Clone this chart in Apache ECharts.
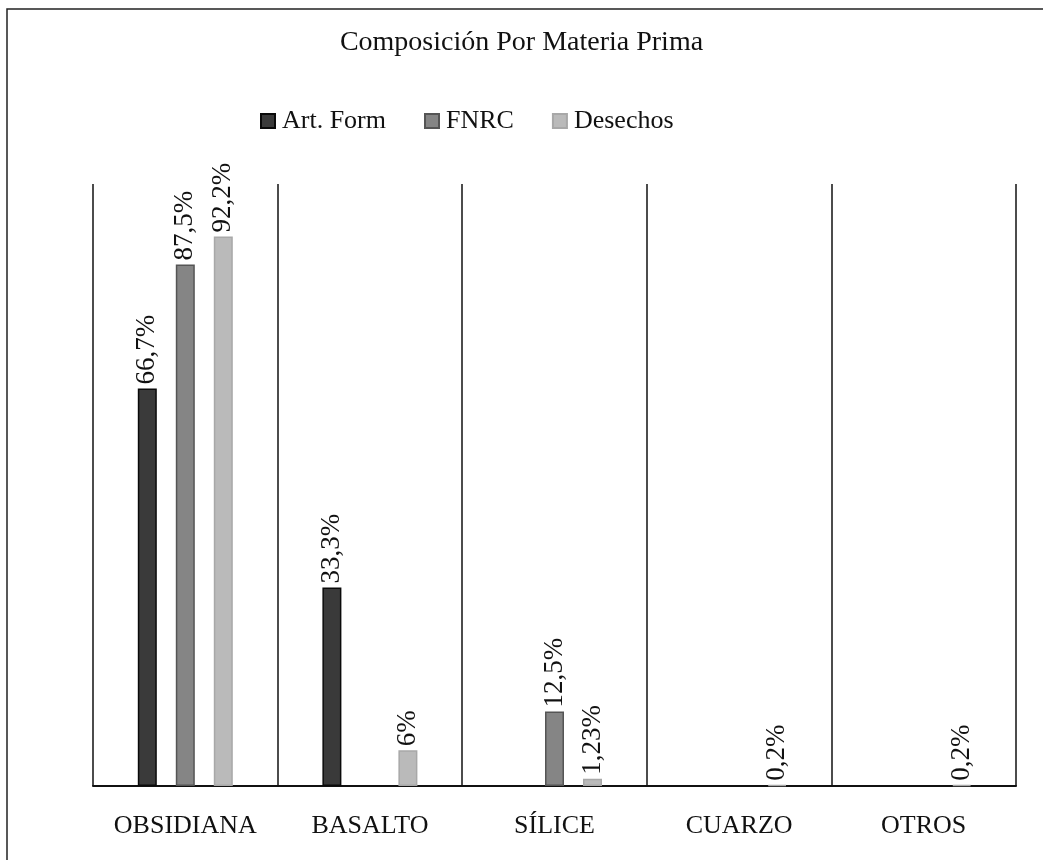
<!DOCTYPE html>
<html>
<head>
<meta charset="utf-8">
<script src="https://cdn.jsdelivr.net/npm/echarts@6/dist/echarts.min.js"></script>
<style>
  html, body { margin: 0; padding: 0; background: #fff; }
  #chart { width: 1043px; height: 860px; }
</style>
</head>
<body>
<div id="chart"></div>
<script>
(function() {
  var categories = ['OBSIDIANA', 'BASALTO', 'SÍLICE', 'CUARZO', 'OTROS'];
  var seriesNames = ['Art. Form', 'FNRC', 'Desechos'];
  var artForm = [66.7, 33.3, null, null, null];
  var fnrc = [87.5, null, 12.5, null, null];
  var desechos = [92.2, 6, 1.23, 0.2, 0.2];
  var artFormLabels = ['66,7%', '33,3%', '', '', ''];
  var fnrcLabels = ['87,5%', '', '12,5%', '', ''];
  var desechosLabels = ['92,2%', '6%', '1,23%', '0,2%', '0,2%'];

  var font = '"Liberation Serif", "DejaVu Serif", serif';
  var ink = '#111111';

  var fills = ['#3a3a3a', '#858585', '#bababa'];
  var borders = ['#0a0a0a', '#555555', '#a8a8a8'];

  function makeSeries(idx, values, labels) {
    return {
      name: seriesNames[idx],
      type: 'bar',
      data: values,
      barWidth: 19,
      barGap: '100%',
      itemStyle: { color: fills[idx], borderColor: borders[idx], borderWidth: 1.5 },
      label: {
        show: true,
        position: 'top',
        rotate: 90,
        align: 'left',
        verticalAlign: 'middle',
        distance: 4,
        color: ink,
        fontFamily: font,
        fontSize: 27,
        formatter: function(p) { return labels[p.dataIndex]; }
      }
    };
  }

  var chart = echarts.init(document.getElementById('chart'), null, { renderer: 'canvas' });
  chart.setOption({
    animation: false,
    backgroundColor: '#ffffff',
    title: {
      text: 'Composición Por Materia Prima',
      left: 'center',
      top: 24,
      textStyle: { fontFamily: font, fontSize: 28, fontWeight: 'normal', color: ink }
    },
    legend: {
      data: seriesNames,
      top: 103,
      left: 255,
      itemWidth: 14,
      itemHeight: 14,
      itemGap: 38,
      icon: 'rect',
      textStyle: { fontFamily: font, fontSize: 26, color: ink, padding: [0, 0, 0, 2] }
    },
    graphic: [{
      type: 'polyline',
      shape: { points: [[7, 860], [7, 9], [1043, 9]] },
      style: { stroke: '#222', lineWidth: 1.5, fill: null }
    }],
    grid: { left: 93, right: 27, top: 184, bottom: 74 },
    xAxis: {
      type: 'category',
      data: categories,
      axisLine: { lineStyle: { color: '#111', width: 2 } },
      axisTick: { show: false },
      axisLabel: { interval: 0, color: ink, fontFamily: font, fontSize: 26, margin: 27 },
      splitLine: { show: true, interval: 0, lineStyle: { color: '#111', width: 1.5 } }
    },
    yAxis: {
      type: 'value',
      min: 0,
      max: 101,
      show: false
    },
    series: [
      makeSeries(0, artForm, artFormLabels),
      makeSeries(1, fnrc, fnrcLabels),
      makeSeries(2, desechos, desechosLabels)
    ]
  });
})();
</script>
</body>
</html>
